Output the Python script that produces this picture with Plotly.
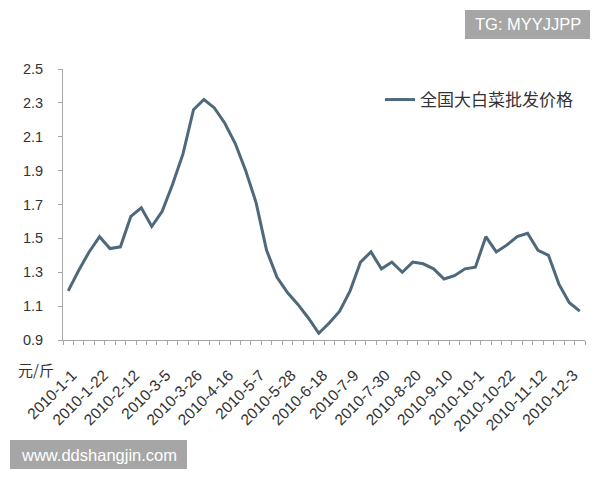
import plotly.graph_objects as go

dates = [
    "2010-1-1", "2010-1-8", "2010-1-15", "2010-1-22", "2010-1-29", "2010-2-5", "2010-2-12",
    "2010-2-19", "2010-2-26", "2010-3-5", "2010-3-12", "2010-3-19", "2010-3-26", "2010-4-2",
    "2010-4-9", "2010-4-16", "2010-4-23", "2010-4-30", "2010-5-7", "2010-5-14", "2010-5-21",
    "2010-5-28", "2010-6-4", "2010-6-11", "2010-6-18", "2010-6-25", "2010-7-2", "2010-7-9",
    "2010-7-16", "2010-7-23", "2010-7-30", "2010-8-6", "2010-8-13", "2010-8-20", "2010-8-27",
    "2010-9-3", "2010-9-10", "2010-9-17", "2010-9-24", "2010-10-1", "2010-10-8", "2010-10-15",
    "2010-10-22", "2010-10-29", "2010-11-5", "2010-11-12", "2010-11-19", "2010-11-26",
    "2010-12-3", "2010-12-10",
]

prices = [
    1.19, 1.31, 1.42, 1.51, 1.44, 1.45, 1.63, 1.68, 1.57, 1.66,
    1.82, 2.00, 2.26, 2.32, 2.27, 2.18, 2.06, 1.90, 1.71, 1.43,
    1.27, 1.18, 1.11, 1.03, 0.94, 1.00, 1.07, 1.19, 1.36, 1.42,
    1.32, 1.36, 1.30, 1.36, 1.35, 1.32, 1.26, 1.28, 1.32, 1.33,
    1.51, 1.42, 1.46, 1.51, 1.53, 1.43, 1.40, 1.23, 1.12, 1.07,
]

series_name = "全国大白菜批发价格"
unit_label = "元/斤"
label_step = 3

x_pos = list(range(len(dates)))
tick_idx = x_pos[::label_step]
tick_text = [dates[i] for i in tick_idx]
boundaries = [i - 0.5 for i in range(len(dates) + 1)]

LINE = "#4E687C"
AXIS = "#A6A6A6"
TXT = "#333333"
FONT = "Liberation Sans, Noto Sans CJK SC, sans-serif"
CJK = "Noto Sans CJK SC, sans-serif"

# the page body has an 8px margin, so the figure starts at (8, 8) in the window
OFF = 8
FIG_W, FIG_H = 600 - OFF, 480 - OFF

# plot area geometry (window pixels) used to place the overlay texts
L, R, T, B = 63, 585, 69, 340
W, H = R - L, B - T


def px(x):
    return (x - L) / W


def py(y):
    return (B - y) / H


fig = go.Figure()
fig.add_trace(go.Scatter(
    x=x_pos, y=prices, mode="lines", name=series_name,
    line=dict(color=LINE, width=3),
))

fig.update_layout(
    width=FIG_W, height=FIG_H,
    margin=dict(l=L - OFF, r=600 - R, t=T - OFF, b=480 - B, autoexpand=False),
    paper_bgcolor="white", plot_bgcolor="white",
    font=dict(family=FONT, size=14, color=TXT),
    showlegend=True,
    legend=dict(
        x=px(380), y=py(100), xanchor="left", yanchor="middle",
        font=dict(family=CJK, size=17, color=TXT),
        bgcolor="rgba(0,0,0,0)",
    ),
    xaxis=dict(
        range=[-0.5, len(dates) - 0.5], automargin=False,
        tickmode="array", tickvals=tick_idx, ticktext=tick_text,
        tickangle=-45, ticks="", showline=True, linecolor=AXIS, linewidth=1,
        showgrid=False, zeroline=False, ticklabelstandoff=19, ticklabelshift=4,
        tickfont=dict(family=FONT, size=15.5, color=TXT),
        minor=dict(tickmode="array", tickvals=boundaries, ticks="outside",
                   ticklen=4, tickcolor=AXIS, showgrid=False),
    ),
    yaxis=dict(
        range=[0.9, 2.5], tick0=0.9, dtick=0.2, tickformat=".1f", automargin=False,
        ticks="outside", ticklen=4, tickcolor=AXIS, showline=True,
        linecolor=AXIS, linewidth=1, showgrid=False, zeroline=False,
        ticklabelstandoff=12,
        tickfont=dict(family=FONT, size=14.5, color=TXT),
    ),
)

# unit label
fig.add_annotation(
    xref="paper", yref="paper", x=px(36), y=py(369), text=unit_label,
    xanchor="center", yanchor="middle",
    showarrow=False, font=dict(family=CJK, size=15, color=TXT),
)

# watermark boxes
fig.add_shape(type="rect", xref="paper", yref="paper",
              x0=px(465), x1=px(590), y0=py(39), y1=py(10),
              fillcolor="#A6A6A6", line=dict(width=0), layer="above")
fig.add_annotation(xref="paper", yref="paper", x=px(527.5), y=py(24.5),
                   xanchor="center", yanchor="middle",
                   text="TG: MYYJJPP", showarrow=False,
                   font=dict(family="Liberation Sans, sans-serif", size=16.5, color="white"))
fig.add_shape(type="rect", xref="paper", yref="paper",
              x0=px(10), x1=px(187), y0=py(469), y1=py(440),
              fillcolor="#A6A6A6", line=dict(width=0), layer="above")
fig.add_annotation(xref="paper", yref="paper", x=px(98.5), y=py(454.5),
                   xanchor="center", yanchor="middle",
                   text="www.ddshangjin.com", showarrow=False,
                   font=dict(family="Liberation Sans, sans-serif", size=16.5, color="white"))

fig.write_html("out.html")
